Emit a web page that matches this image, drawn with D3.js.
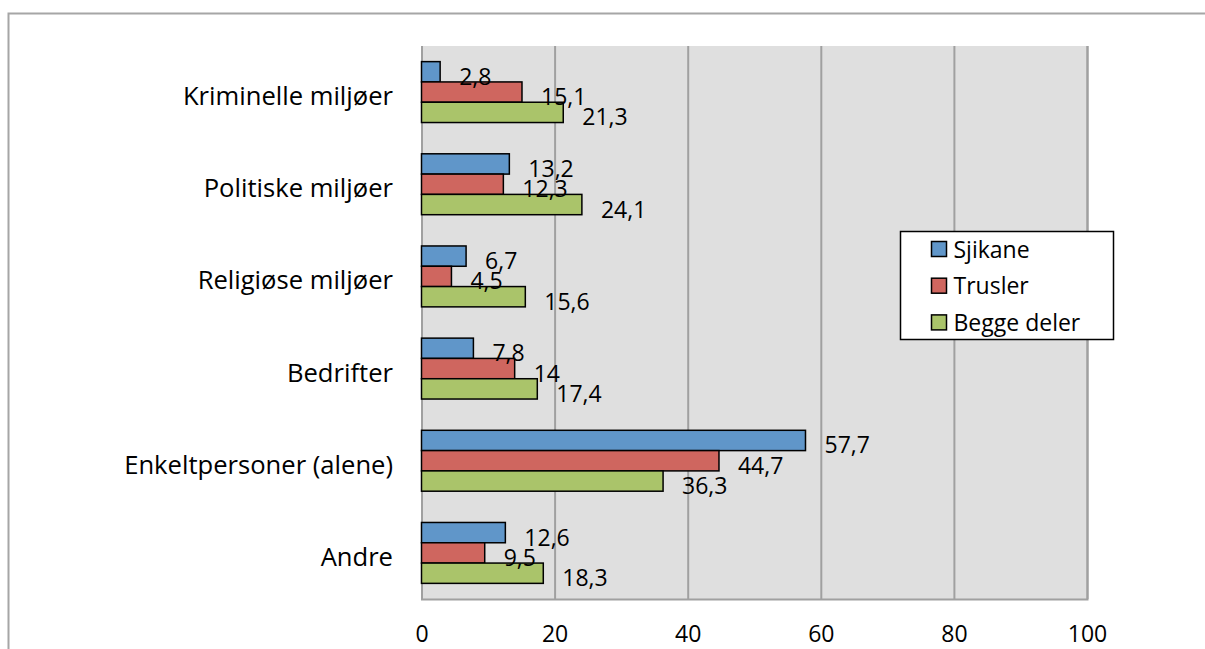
<!DOCTYPE html>
<html>
<head>
<meta charset="utf-8">
<title>Sjikane og trusler</title>
<script src="https://cdn.jsdelivr.net/npm/d3@7"></script>
<style>
  body { margin: 0; background: #fff; }
  text { font-family: "Open Sans", Lato, sans-serif; fill: #000; }
</style>
</head>
<body>
<script>
// ---- data ----
var categories = ["Kriminelle miljøer", "Politiske miljøer", "Religiøse miljøer",
                  "Bedrifter", "Enkeltpersoner (alene)", "Andre"];
var series = ["Sjikane", "Trusler", "Begge deler"];
var sjikane = [2.8, 13.2, 6.7, 7.8, 57.7, 12.6];
var trusler = [15.1, 12.3, 4.5, 14, 44.7, 9.5];
var begge = [21.3, 24.1, 15.6, 17.4, 36.3, 18.3];
var tickValues = [0, 20, 40, 60, 80, 100];

var colors = {"Sjikane": "#6096c9", "Trusler": "#cf665f", "Begge deler": "#aac46a"};

var rows = [];
categories.forEach(function(c, i) {
  rows.push({cat: c, s: "Sjikane", v: sjikane[i]});
  rows.push({cat: c, s: "Trusler", v: trusler[i]});
  rows.push({cat: c, s: "Begge deler", v: begge[i]});
});

// ---- size ----
var w = 1205, h = 649;
var svg = d3.select("body").append("svg").attr("width", w).attr("height", h);

// outer chart border (runs off the right and bottom edge)
svg.append("rect")
  .attr("x", 8.5).attr("y", 13.5)
  .attr("width", 1250).attr("height", 700)
  .attr("fill", "#fff").attr("stroke", "#a6a6a6").attr("stroke-width", 2);

var plot = {left: 421.5, right: 1087, top: 46, bottom: 599};

var x = d3.scaleLinear().domain([0, 100]).range([plot.left, plot.right]);
var y = d3.scaleBand().domain(categories).range([plot.top, plot.bottom]);
var ySub = d3.scaleBand().domain(series).range([0, y.bandwidth()]).paddingOuter(0.77);

// plot background
svg.append("rect")
  .attr("x", plot.left).attr("y", plot.top)
  .attr("width", plot.right - plot.left).attr("height", plot.bottom - plot.top)
  .attr("fill", "#dfdfdf");

// gridlines + tick labels
var xAxis = d3.axisBottom(x)
  .tickValues(tickValues)
  .tickSize(-(plot.bottom - plot.top))
  .tickPadding(27)
  .tickFormat(d3.format("d"));

var gx = svg.append("g")
  .attr("transform", "translate(0," + plot.bottom + ")")
  .call(xAxis);
gx.select(".domain").attr("stroke", "#a0a0a0").attr("stroke-width", 2);
gx.selectAll(".tick line").attr("stroke", "#a0a0a0").attr("stroke-width", 2);
gx.selectAll(".tick text")
  .attr("font-family", "'Open Sans', Lato, sans-serif")
  .attr("font-size", 23)
  .attr("fill", "#000");

// category labels
svg.selectAll(".cat")
  .data(categories)
  .enter().append("text")
  .attr("class", "cat")
  .attr("x", 393)
  .attr("y", function(d) { return y(d) + y.bandwidth() / 2 + 13; })
  .attr("text-anchor", "end")
  .attr("font-size", 25.6)
  .text(function(d) { return d; });

// bars
svg.selectAll(".bar")
  .data(rows)
  .enter().append("rect")
  .attr("class", "bar")
  .attr("x", x(0))
  .attr("y", function(d) { return y(d.cat) + ySub(d.s); })
  .attr("width", function(d) { return x(d.v) - x(0); })
  .attr("height", ySub.bandwidth())
  .attr("fill", function(d) { return colors[d.s]; })
  .attr("stroke", "#000")
  .attr("stroke-width", 1.5);

// value labels
svg.selectAll(".val")
  .data(rows)
  .enter().append("text")
  .attr("class", "val")
  .attr("x", function(d) { return x(d.v) + 19; })
  .attr("y", function(d) { return y(d.cat) + ySub(d.s) + ySub.bandwidth() / 2 + 13; })
  .attr("font-size", 23)
  .text(function(d) { return String(d.v).replace(".", ","); });

// legend
var lg = svg.append("g").attr("transform", "translate(900.5,231.5)");
lg.append("rect")
  .attr("width", 213).attr("height", 108)
  .attr("fill", "#fff").attr("stroke", "#000").attr("stroke-width", 1.5);

var item = lg.selectAll(".item")
  .data(series)
  .enter().append("g")
  .attr("class", "item")
  .attr("transform", function(d, i) { return "translate(31," + (10 + i * 36.7) + ")"; });

item.append("rect")
  .attr("width", 15).attr("height", 15)
  .attr("fill", function(d) { return colors[d]; })
  .attr("stroke", "#000").attr("stroke-width", 1.5);

item.append("text")
  .attr("x", 22).attr("y", 16)
  .attr("font-size", 23)
  .text(function(d) { return d; });
</script>
</body>
</html>
